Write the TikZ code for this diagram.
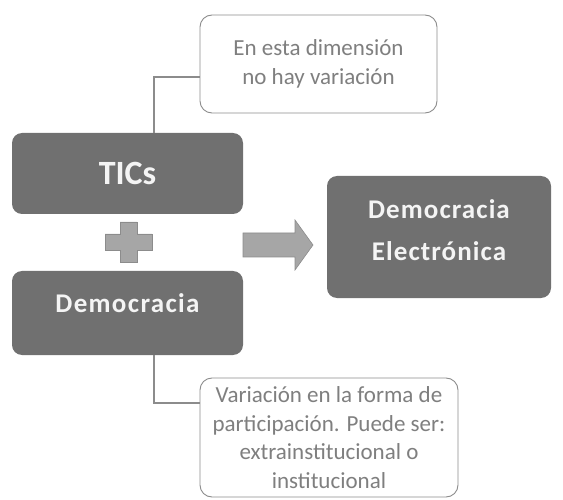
\documentclass[tikz,border=0pt]{standalone}
\usepackage{fontspec}
\setmainfont{Carlito}
\usepackage{xcolor}
\usetikzlibrary{positioning,calc}
\definecolor{ticsdark}{HTML}{707070}
\definecolor{ticslight}{HTML}{A6A6A6}
\definecolor{ticsline}{HTML}{8C8C8C}
\definecolor{ticsnote}{HTML}{7F7F7F}
\definecolor{ticswhite}{HTML}{F4F4F4}

\begin{document}
\begin{tikzpicture}[
    x=1pt, y=-1pt,
    darkbox/.style={rectangle, rounded corners=10pt, fill=ticsdark, text=ticswhite, align=center, inner sep=0pt, font=\bfseries},
    note/.style={rectangle, rounded corners=12pt, draw=ticsline, fill=white, line width=0.9pt, text=ticsnote, align=center, inner sep=0pt, font=\fontsize{23}{28.5}\selectfont},
    link/.style={draw=ticsline, line width=1.4pt},
    plain/.style={fill=ticslight, draw=ticsline, line width=0.6pt}
]
    \useasboundingbox (0,0) rectangle (563,500);

    % Nodes
    \node (note1) [note, minimum width=237pt, minimum height=98pt] at (318.5,64) {En esta dimensión\\no hay variación};

    \node (tics) [darkbox, minimum width=231pt, minimum height=81pt, font=\bfseries\fontsize{34}{40}\selectfont] at (127.5,173.5) {TICs};

    \node (demo) [darkbox, minimum width=231pt, minimum height=84pt, font=\bfseries\fontsize{27}{32}\selectfont\addfontfeature{LetterSpace=5}] at (127.5,313) {Democracia\rule[-20pt]{0pt}{20pt}};

    \node (elec) [darkbox, minimum width=224pt, minimum height=122pt, font=\bfseries\fontsize{27}{42}\selectfont\addfontfeature{LetterSpace=4}] at (439,237) {Democracia\\Electrónica\rule[-14pt]{0pt}{14pt}};

    \node (note2) [note, minimum width=258pt, minimum height=119pt] at (329,437.5) {Variación en la forma de\\participación. Puede ser:\\extrainstitucional o\\institucional};

    % Plus and arrow
    \path [plain] (120,222) -- (137,222) -- (137,234) -- (152,234) -- (152,250) -- (137,250) -- (137,262) -- (120,262) -- (120,250) -- (105,250) -- (105,234) -- (120,234) -- cycle;
    \path [plain] (243,233) -- (295,233) -- (295,220) -- (313,245) -- (295,270) -- (295,257) -- (243,257) -- cycle;

    % Connectors
    \draw [link] ([xshift=26.5pt]tics.north) |- ([yshift=-13pt]note1.west);
    \draw [link] ([xshift=26.5pt]demo.south) |- ([yshift=34.5pt]note2.west);
\end{tikzpicture}
\end{document}
